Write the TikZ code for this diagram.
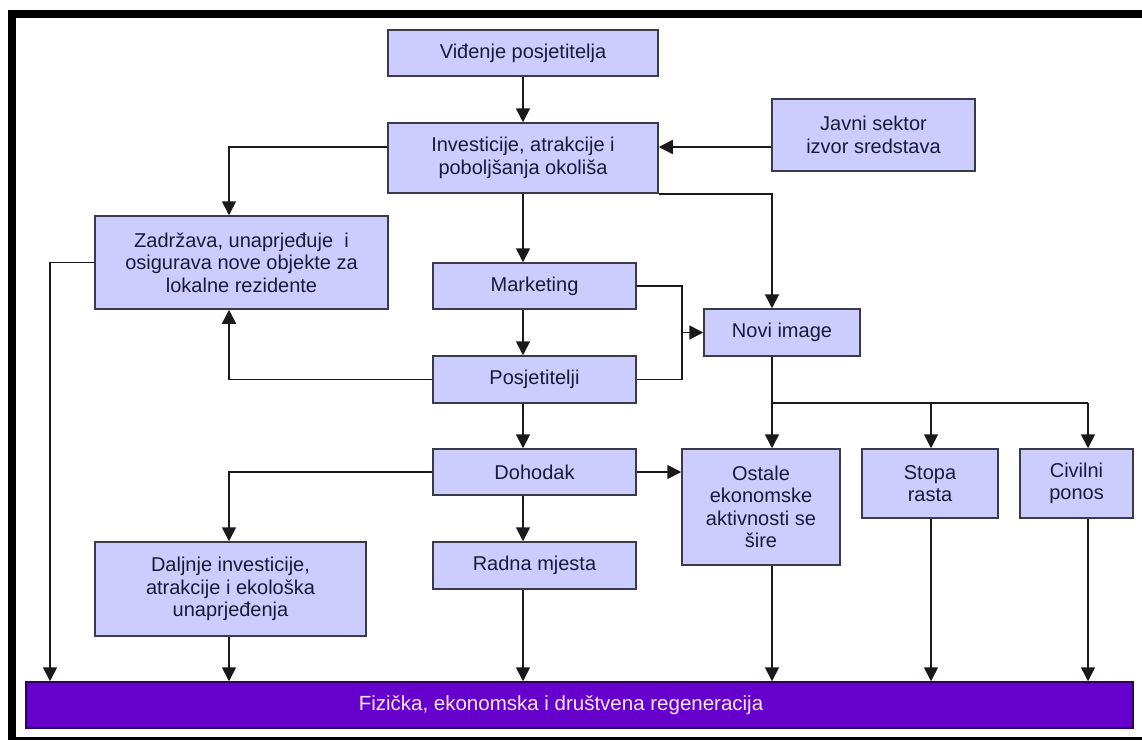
\documentclass[tikz,border=0pt]{standalone}
\usepackage{fontspec}
\setmainfont{Liberation Sans}
\usetikzlibrary{arrows.meta}
\definecolor{boxfill}{HTML}{CCCCFF}
\definecolor{boxline}{HTML}{3A3A4A}
\definecolor{txt}{HTML}{1A1A36}
\definecolor{lin}{HTML}{1A1A1A}
\definecolor{barfill}{HTML}{6600CC}
\definecolor{barline}{HTML}{2E0060}
\definecolor{bartxt}{HTML}{F6E8F6}
\begin{document}
\begin{tikzpicture}[x=1pt,y=-1pt,
  box/.style={draw=boxline, fill=boxfill, line width=1.5pt, text=txt, align=center,
    inner sep=0pt, font=\fontsize{20}{22.5}\selectfont},
  arr/.style={line width=1.7pt, draw=lin, -{Triangle[length=14pt,width=14pt]}},
  plain/.style={line width=1.7pt, draw=lin}]
\useasboundingbox (0,0) rectangle (1142,740);
\fill[white] (0,0) rectangle (1142,740);
% frame
\fill[black] (8,10) rectangle (1142,18);
\fill[black] (8,10) rectangle (16,740);
\fill[black] (8,736.5) rectangle (1142,739.5);
% columns and rows
\coordinate (cA) at (229,0);
\coordinate (cB) at (523,0);
\coordinate (cC) at (772,0);
\coordinate (cD) at (931,0);
\coordinate (cE) at (1088,0);
\coordinate (cF) at (50,0);
\coordinate (cG) at (682,0);
\coordinate (r1) at (0,147);
\coordinate (r2) at (0,403);
% nodes
\node[box, minimum width=270pt, minimum height=46pt] (vid) at (523,53) {Viđenje posjetitelja};
\node[box, minimum width=270pt, minimum height=70pt] (inv) at (523,158) {Investicije, atrakcije i\\poboljšanja okoliša};
\node[box, minimum width=203pt, minimum height=72pt] (jav) at (873.5,135) {Javni sektor\\izvor sredstava};
\node[box, minimum width=293pt, minimum height=93pt] (zad) at (241.5,262.5) {Zadržava, unaprjeđuje\ \ i\\osigurava nove objekte za\\lokalne rezidente};
\node[box, minimum width=203pt, minimum height=46pt] (mkt) at (534.5,286) {Marketing};
\node[box, minimum width=156pt, minimum height=47pt] (nov) at (782,332.5) {Novi image};
\node[box, minimum width=203pt, minimum height=47pt] (pos) at (534.5,379.5) {Posjetitelji};
\node[box, minimum width=203pt, minimum height=46pt] (doh) at (534.5,472) {Dohodak};
\node[box, minimum width=158pt, minimum height=116pt] (ost) at (761,507) {Ostale\\ekonomske\\aktivnosti se\\šire};
\node[box, minimum width=136pt, minimum height=69pt] (sto) at (930,483.5) {Stopa\\rasta};
\node[box, minimum width=113pt, minimum height=69pt] (civ) at (1076.5,483.5) {Civilni\\ponos};
\node[box, minimum width=271pt, minimum height=94pt] (dal) at (230.5,589) {Daljnje investicije,\\atrakcije i ekološka\\unaprjeđenja};
\node[box, minimum width=203pt, minimum height=47pt] (rad) at (534.5,565.5) {Radna mjesta};
\node[draw=barline, fill=barfill, line width=1.5pt, inner sep=0pt,
  minimum width=1107pt, minimum height=46pt] (bar) at (579.5,705) {};
\node[text=bartxt, inner sep=0pt, font=\fontsize{20.5}{23}\selectfont] (bartext) at (561,705) {Fizička, ekonomska i društvena regeneracija};
% connectors
\draw[arr] (vid.south -| cB) -- (inv.north -| cB);
\draw[arr] (jav.west |- r1) -- (inv.east |- r1);
\draw[arr] (inv.west |- r1) -| (zad.north -| cA);
\draw[arr] (inv.south -| cB) -- (mkt.north -| cB);
\draw[arr] (inv.south east) -| (nov.north -| cC);
\draw[arr] (mkt.east) -| (cG |- nov.west) -- (nov.west);
\draw[plain] (pos.east) -| (cG |- nov.west);
\draw[arr] (mkt.south -| cB) -- (pos.north -| cB);
\draw[arr] (pos.west) -| (zad.south -| cA);
\draw[arr] (pos.south -| cB) -- (doh.north -| cB);
\draw[arr] (doh.east) -- (doh.east -| ost.west);
\draw[arr] (doh.west) -| (dal.north -| cA);
\draw[arr] (doh.south -| cB) -- (rad.north -| cB);
\draw[arr] (nov.south -| cC) -- (ost.north -| cC);
\draw[plain] (cC |- r2) -- (cE |- r2);
\draw[arr] (cD |- r2) -- (sto.north -| cD);
\draw[arr] (cE |- r2) -- (civ.north -| cE);
\draw[arr] (zad.west) -| (bar.north -| cF);
\draw[arr] (dal.south -| cA) -- (bar.north -| cA);
\draw[arr] (rad.south -| cB) -- (bar.north -| cB);
\draw[arr] (ost.south -| cC) -- (bar.north -| cC);
\draw[arr] (sto.south -| cD) -- (bar.north -| cD);
\draw[arr] (civ.south -| cE) -- (bar.north -| cE);
\end{tikzpicture}
\end{document}
